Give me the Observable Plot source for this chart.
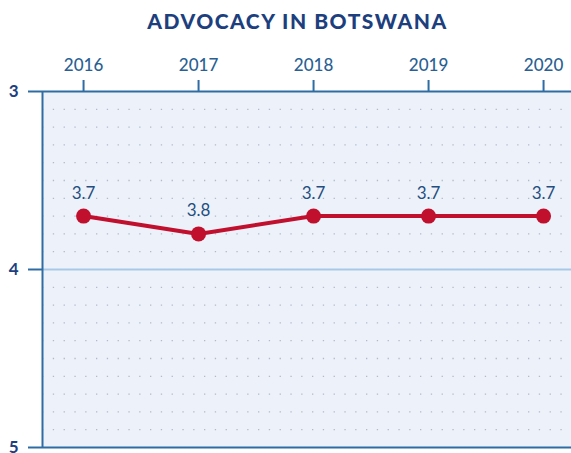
<!DOCTYPE html>
<html>
<head>
<meta charset="utf-8">
<script src="https://cdn.jsdelivr.net/npm/d3@7"></script>
<script src="https://cdn.jsdelivr.net/npm/@observablehq/plot@0.6"></script>
<style>
  html, body { margin: 0; padding: 0; background: #ffffff; }
  #wrap { width: 571px; height: 453px; overflow: hidden; font-family: Lato, "Open Sans", sans-serif; }
  #title { height: 40px; line-height: 42px; text-align: center; padding-left: 24px; box-sizing: border-box;
           font-family: Lato, sans-serif; font-weight: 900; font-size: 21px; color: #1d3f7e; letter-spacing: 1.5px; }
  svg { display: block; }
  svg [aria-label="y-axis tick label"] { font-weight: bold; }
</style>
</head>
<body>
<div id="wrap">
  <div id="title">ADVOCACY IN BOTSWANA</div>
  <div id="chart"></div>
</div>
<script>
const years = [2016, 2017, 2018, 2019, 2020];
const scores = [3.7, 3.8, 3.7, 3.7, 3.7];
const scoreLabels = ["3.7", "3.8", "3.7", "3.7", "3.7"];
const yTicks = [3, 4, 5];
const gridValues = [3.1, 3.2, 3.3, 3.4, 3.5, 3.6, 3.7, 3.8, 3.9, 4.1, 4.2, 4.3, 4.4, 4.5, 4.6, 4.7, 4.8, 4.9];

const data = years.map((y, i) => ({year: y, score: scores[i], label: scoreLabels[i]}));
const xDomain = [2015.643, 2020.243];
const axisColor = "#2e6ca3";

const chart = Plot.plot({
  width: 571,
  height: 413,
  marginLeft: 42,
  marginRight: 0,
  marginTop: 51,
  marginBottom: 6,
  style: {fontFamily: "Lato, 'Open Sans', sans-serif", background: "transparent"},
  x: {domain: xDomain},
  y: {domain: [3, 5], reverse: true},
  marks: [
    Plot.frame({fill: "#edf2fa", stroke: null}),
    Plot.ruleY(gridValues, {stroke: "#aab4c2", strokeWidth: 1.3, strokeDasharray: "1.3,9.5", strokeOpacity: 0.9}),
    Plot.ruleY([4], {stroke: "#a9c8e6", strokeWidth: 2}),
    Plot.ruleY([3, 5], {stroke: axisColor, strokeWidth: 2}),
    Plot.ruleX([xDomain[0]], {y1: 3, y2: 5, stroke: axisColor, strokeWidth: 2}),
    Plot.axisY({ticks: yTicks, tickFormat: "d", tickSize: 14, tickPadding: 10, fontSize: 17, color: "#1d3f7e", stroke: axisColor, strokeWidth: 2, label: null}),
    Plot.axisX({anchor: "top", ticks: years, tickFormat: "d", tickSize: 12, tickPadding: 9, fontSize: 17, fontWeight: 500, color: "#2a5f93", stroke: axisColor, strokeWidth: 2, label: null}),
    Plot.line(data, {x: "year", y: "score", stroke: "#c1102e", strokeWidth: 4}),
    Plot.dot(data, {x: "year", y: "score", r: 7.5, fill: "#c1102e", stroke: null}),
    Plot.text(data, {x: "year", y: "score", text: "label", dy: -23, fontSize: 17, fill: "#1f4e80"})
  ]
});
document.getElementById("chart").appendChild(chart);
</script>
</body>
</html>
